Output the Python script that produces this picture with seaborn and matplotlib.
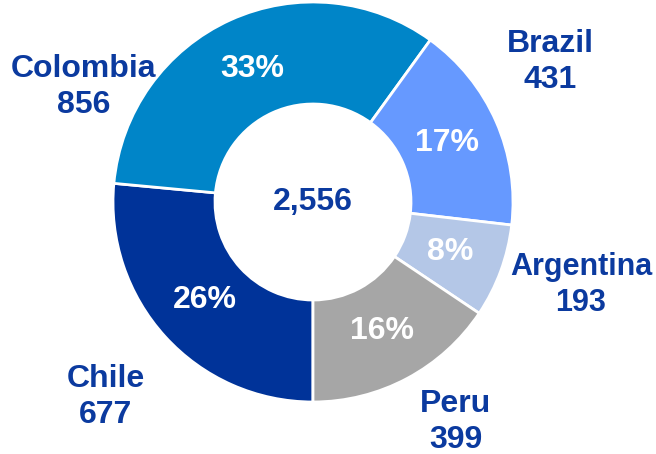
import matplotlib
matplotlib.use("Agg")
import matplotlib.pyplot as plt
import seaborn as sns

countries = ["Chile", "Colombia", "Brazil", "Argentina", "Peru"]
values = [677, 856, 431, 193, 399]
colors_hex = ["#003399", "#0085c8", "#6699ff", "#b4c7e7", "#a6a6a6"]
total_label = "2,556"
# label anchor positions (pixels from top-left)
label_pos = {"Chile": (106, 397), "Colombia": (84, 87), "Brazil": (550, 62),
             "Argentina": (581, 285), "Peru": (456, 422)}

sns.set_theme(style="white")
plt.rcParams["font.family"] = ["Liberation Sans", "DejaVu Sans"]
text_color = "#0b3a9f"

W, H = 656, 454
fig = plt.figure(figsize=(W / 100, H / 100), dpi=100)
ax = fig.add_axes([0, 0, 1, 1])
ax.set_xlim(0, W)
ax.set_ylim(0, H)
ax.set_aspect("equal")
ax.axis("off")

cx, cy, R = 313, H - 202, 200
palette = sns.color_palette(colors_hex)
wedges, texts, autotexts = ax.pie(
    values, colors=palette, startangle=-90, counterclock=False,
    center=(cx, cy), radius=R, autopct=lambda p: f"{p:.0f}%", pctdistance=0.73,
    wedgeprops=dict(width=102, edgecolor="white", linewidth=2),
    textprops=dict(color="white", fontsize=23, fontweight="bold"))
ax.set_xlim(0, W)
ax.set_ylim(0, H)

ax.text(cx, cy, total_label, ha="center", va="center", color=text_color,
        fontsize=23, fontweight="bold")

for name, v in zip(countries, values):
    x, y = label_pos[name]
    fs = 22 if name == "Argentina" else 23
    ax.text(x, H - y, f"{name}\n{v}", ha="center", va="center", color=text_color,
            fontsize=fs, fontweight="bold", linespacing=1.22)

fig.savefig("out.png", dpi=100)
